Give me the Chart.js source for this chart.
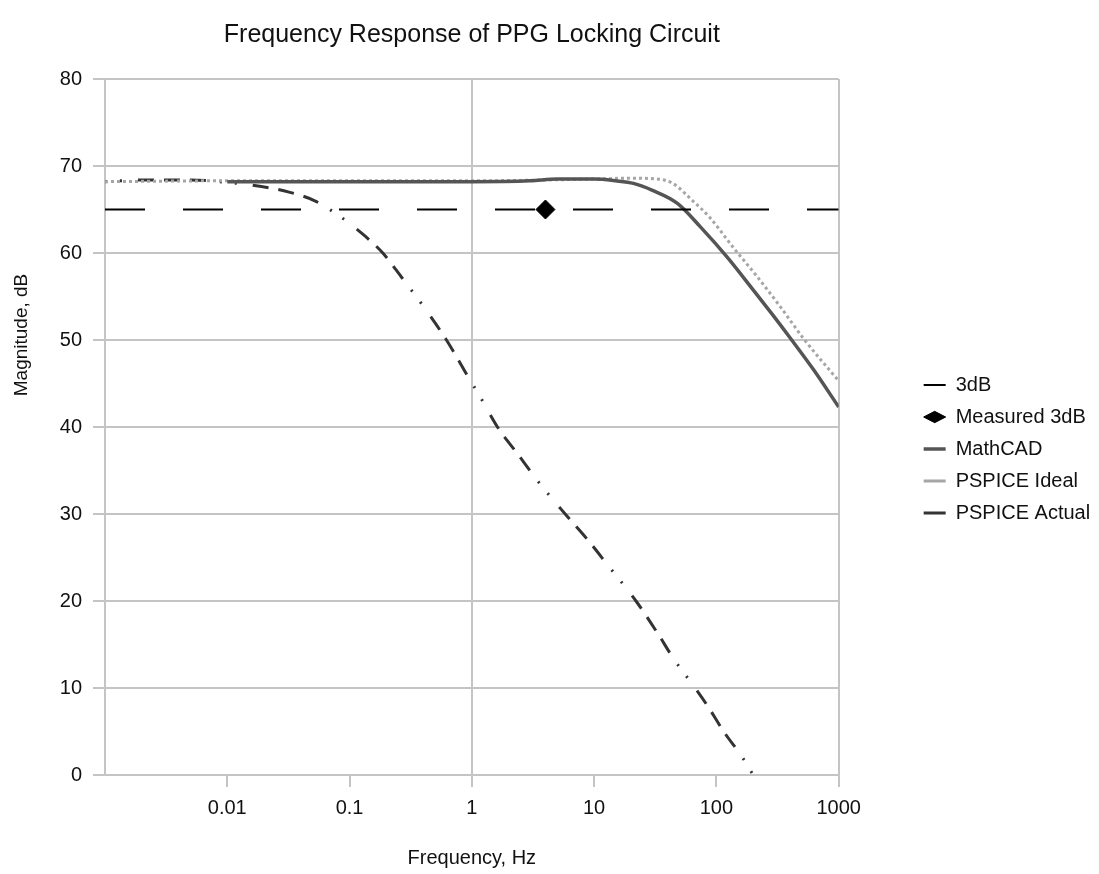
<!DOCTYPE html>
<html>
<head>
<meta charset="utf-8">
<title>Frequency Response of PPG Locking Circuit</title>
<script src="https://cdn.jsdelivr.net/npm/chart.js@4.4.1/dist/chart.umd.min.js"></script>
<style>
  html,body{margin:0;padding:0;background:#fff;}
  #wrap{width:1099px;height:874px;}
</style>
</head>
<body>
<div id="wrap"><canvas id="freqChart" width="1099" height="874"></canvas></div>
<script>
// valores (frequência em Hz, magnitude em dB)
const xTicks = [0.001, 0.01, 0.1, 1, 10, 100, 1000];

const limitX = [0.001, 1000];
const limitY = [65, 65];

const measuredX = [4];
const measuredY = [65];

const mathcadX = [0.01, 0.1, 1, 3, 5, 10, 15, 21, 30, 48, 74, 123, 189, 292, 403, 622, 1000];
const mathcadY = [68.2, 68.2, 68.2, 68.3, 68.5, 68.5, 68.3, 68.0, 67.2, 65.7, 63.0, 59.5, 56.2, 52.8, 50.2, 46.6, 42.3];

const idealX = [0.001, 0.01, 0.1, 1, 10, 20, 33, 44, 64, 88, 138, 215, 330, 520, 1000];
const idealY = [68.2, 68.3, 68.3, 68.3, 68.5, 68.6, 68.5, 68.0, 66.0, 64.1, 60.6, 57.3, 53.9, 50.1, 45.3];

const actualX = [0.001, 0.002, 0.005, 0.01, 0.016, 0.032, 0.052, 0.076, 0.1, 0.135, 0.187, 0.27, 0.40, 0.62, 0.93,
                 1.2, 1.62, 2.4, 3.5, 5.8, 8.9, 12.8, 22, 33.4, 45, 67, 86, 116, 160, 200];
const actualY = [68.2, 68.4, 68.4, 68.1, 67.8, 67.0, 66.0, 64.6, 63.4, 61.9, 60.0, 57.1, 53.9, 50.0, 45.8,
                 43.2, 40.0, 36.8, 33.7, 30.0, 27.0, 24.2, 20.0, 16.2, 13.3, 10.0, 7.8, 4.9, 2.2, 0.0];

const GRID = '#c4c4c4';
const TEXT = '#111';
const FONT = '"Liberation Sans", Arial, Helvetica, sans-serif';

function pts(xs, ys){ return xs.map((x,i)=>({x:x, y:ys[i]})); }

// título do eixo Y (fica acima do centro no original)
const yTitlePlugin = {
  id:'yTitle',
  afterDraw(chart){
    const ctx = chart.ctx;
    ctx.save();
    ctx.translate(22, 335);
    ctx.rotate(-Math.PI/2);
    ctx.font = '19px ' + FONT;
    ctx.fillStyle = TEXT;
    ctx.textAlign = 'center';
    ctx.textBaseline = 'middle';
    ctx.fillText('Magnitude, dB', 0, 0);
    ctx.restore();
  }
};

Chart.defaults.font.family = FONT;
Chart.defaults.color = TEXT;

const ctx = document.getElementById('freqChart').getContext('2d');
new Chart(ctx,{
  type:'line',
  data:{
    datasets:[
      {label:'3dB', data:pts(limitX,limitY), borderColor:'#000', backgroundColor:'#000', borderWidth:2,
       borderDash:[40,38], pointRadius:0, pointStyle:'line'},
      {label:'Measured 3dB', data:pts(measuredX,measuredY), showLine:false, borderColor:'#000', backgroundColor:'#000',
       borderWidth:1, pointStyle:'rectRot', pointRadius:9.5},
      {label:'MathCAD', data:pts(mathcadX,mathcadY), borderColor:'#555', backgroundColor:'#555', borderWidth:3.5,
       pointRadius:0, pointStyle:'line', cubicInterpolationMode:'monotone'},
      {label:'PSPICE Ideal', data:pts(idealX,idealY), borderColor:'#a6a6a6', backgroundColor:'#a6a6a6', borderWidth:3,
       borderDash:[3,3], pointRadius:0, pointStyle:'line', cubicInterpolationMode:'monotone'},
      {label:'PSPICE Actual', data:pts(actualX,actualY), borderColor:'#333', backgroundColor:'#333', borderWidth:3,
       borderDash:[16,10,16,10,16,14,2,13,2,16], borderDashOffset:82, pointRadius:0, pointStyle:'line',
       cubicInterpolationMode:'monotone'}
    ]
  },
  options:{
    responsive:false,
    animation:false,
    events:[],
    layout:{padding:{left:0, top:0, right:5, bottom:0}},
    plugins:{
      title:{display:true, text:'Frequency Response of PPG Locking Circuit', fullSize:false,
             color:TEXT, font:{size:25, weight:'normal'}, padding:{top:20, bottom:29}},
      legend:{
        position:'right',
        title:{display:true, text:'', font:{size:20}, padding:0},
        labels:{usePointStyle:true, pointStyleWidth:22, boxWidth:22, boxHeight:8, padding:12,
                color:TEXT, font:{size:20}}
      },
      tooltip:{enabled:false}
    },
    scales:{
      x:{
        type:'logarithmic', min:0.001, max:1000,
        afterBuildTicks:(s)=>{ s.ticks = xTicks.map(v=>({value:v})); },
        afterFit:(s)=>{ s.height = 99; },
        ticks:{autoSkip:false, maxRotation:0, padding:9, color:TEXT, font:{size:20},
               callback:(v)=> v===0.001 ? '' : String(v)},
        grid:{lineWidth:2, tickLength:12,
              color:(c)=> (c.tick && (c.tick.value===1 || c.tick.value===1000)) ? GRID : 'rgba(0,0,0,0)',
              tickColor:(c)=> (c.tick && c.tick.value===0.001) ? 'rgba(0,0,0,0)' : GRID},
        border:{color:GRID, width:2},
        title:{display:true, text:'Frequency, Hz', color:TEXT, font:{size:20}, padding:{top:0, bottom:4}}
      },
      y:{
        min:0, max:80,
        afterFit:(s)=>{ s.width = 105; },
        ticks:{stepSize:10, padding:11, color:TEXT, font:{size:20}},
        grid:{color:GRID, lineWidth:2, tickLength:12},
        border:{color:GRID, width:2}
      },
      gap:{
        type:'linear', position:'right', display:true,
        afterFit:(s)=>{ s.width = 73; },
        ticks:{display:false}, grid:{display:false}, border:{display:false}
      }
    }
  },
  plugins:[yTitlePlugin]
});
</script>
</body>
</html>
